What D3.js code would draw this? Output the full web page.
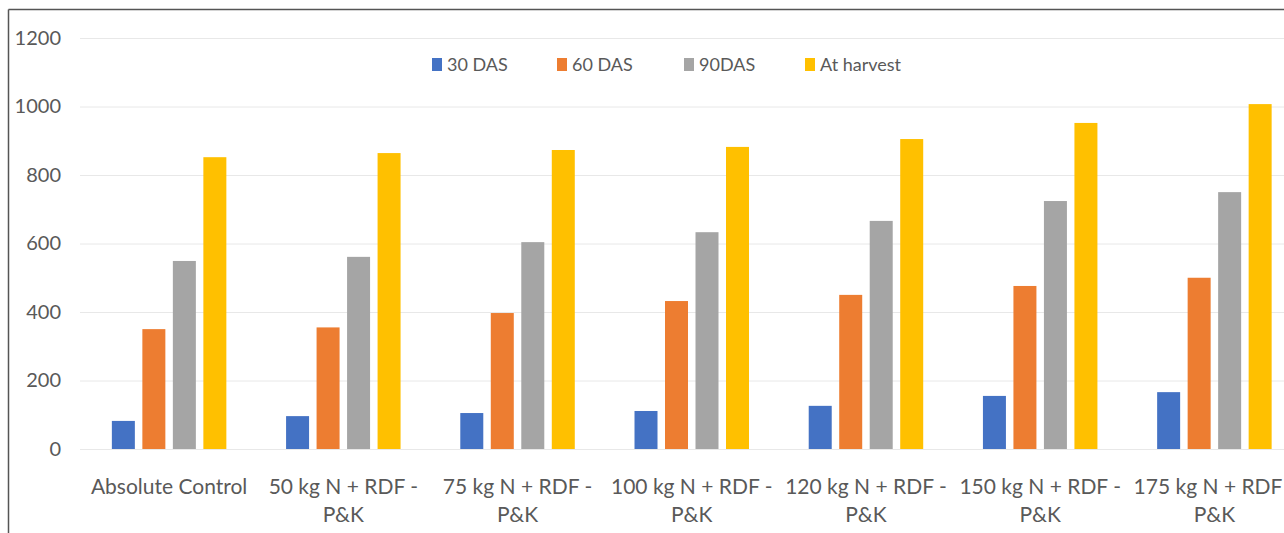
<!DOCTYPE html>
<html><head><meta charset="utf-8">
<script src="https://cdn.jsdelivr.net/npm/d3@7"></script>
<style>html,body{margin:0;padding:0;background:#fff;overflow:hidden}</style>
</head><body>
<svg id="c" width="1284" height="533"></svg>
<script>
const categories = ["Absolute Control","50 kg N + RDF - P&K","75 kg N + RDF - P&K","100 kg N + RDF - P&K","120 kg N + RDF - P&K","150 kg N + RDF - P&K","175 kg N + RDF - P&K"];
const seriesNames = ["30 DAS","60 DAS","90DAS","At harvest"];
const das30 = [82, 96, 105, 111, 126, 155, 166];
const das60 = [350, 355, 397, 432, 450, 476, 500];
const das90 = [549, 561, 604, 633, 666, 724, 750];
const harvest = [852, 864, 873, 882, 905, 952, 1007];
const yTicks = [0, 200, 400, 600, 800, 1000, 1200];
const colors = ["#4472C4","#ED7D31","#A5A5A5","#FFC000"];

const seriesValues = [das30, das60, das90, harvest];
const font = "Lato, 'Liberation Sans', sans-serif";
const txt = "#595959";
const svg = d3.select("#c");

// frame
svg.append("line").attr("x1",8.5).attr("x2",1284).attr("y1",9.5).attr("y2",9.5).attr("stroke","#555").attr("stroke-width",1.5);
svg.append("line").attr("x1",8.5).attr("x2",8.5).attr("y1",9.5).attr("y2",533).attr("stroke","#555").attr("stroke-width",1.5);

const x0 = d3.scaleBand().domain(categories).range([82, 1301.5]).padding(0);
const x1 = d3.scaleBand().domain(seriesNames).range([0, x0.bandwidth()]).paddingInner(0.246).paddingOuter(0.979);
const y = d3.scaleLinear().domain([0, 1200]).range([449, 38]);

// gridlines
svg.append("g").selectAll("line").data(yTicks).join("line")
  .attr("x1", 80).attr("x2", 1284)
  .attr("y1", d => y(d)+0.5).attr("y2", d => y(d)+0.5)
  .attr("stroke", "#e8e8e8").attr("stroke-width", 1);

// y axis labels
const yAxis = d3.axisLeft(y).tickValues(yTicks).tickSize(0).tickPadding(0).tickFormat(d3.format("d"));
const gy = svg.append("g").attr("transform","translate(61,0)").call(yAxis);
gy.select(".domain").remove();
gy.selectAll("text").attr("font-family", font).attr("font-size", 20).attr("fill", txt);

// bars
const groups = svg.append("g").selectAll("g").data(categories).join("g")
  .attr("transform", c => `translate(${x0(c)},0)`);
groups.selectAll("rect").data((c, i) => seriesNames.map((s, j) => ({s, v: seriesValues[j][i], j})))
  .join("rect")
  .attr("x", d => x1(d.s)).attr("width", x1.bandwidth())
  .attr("y", d => y(d.v)).attr("height", d => y(0) - y(d.v))
  .attr("fill", d => colors[d.j]);

// x labels
const xl = svg.append("g");
categories.forEach(c => {
  const idx = c.indexOf(" P&K");
  const lines = idx >= 0 ? [c.slice(0, idx), "P&K"] : [c];
  const t = xl.append("text").attr("text-anchor","middle").attr("font-family", font)
    .attr("font-size", 21).attr("fill", txt);
  lines.forEach((l, k) => t.append("tspan").attr("x", x0(c) + x0.bandwidth()/2).attr("y", 494 + k*28).text(l));
});

// legend (entry start positions as layout constants)
const legendX = [432, 557, 684, 805];
const lg = svg.append("g");
seriesNames.forEach((s, j) => {
  lg.append("rect").attr("x", legendX[j]).attr("y", 58).attr("width", 10).attr("height", 13).attr("fill", colors[j]);
  lg.append("text").attr("x", legendX[j] + 15).attr("y", 71).attr("font-family", font)
    .attr("font-size", 18).attr("fill", txt).text(s);
});
</script>
</body></html>
